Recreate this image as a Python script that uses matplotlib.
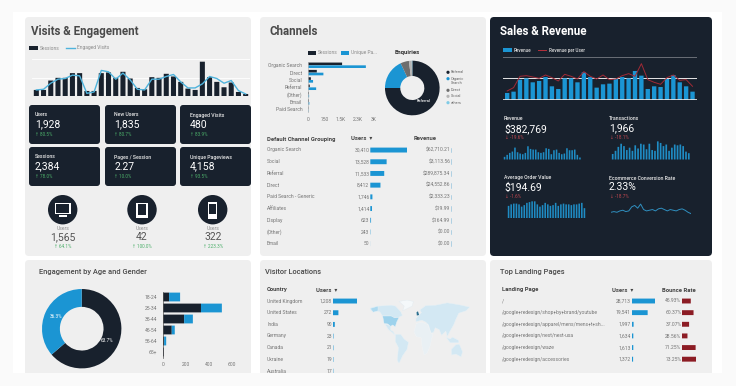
import matplotlib
matplotlib.use('Agg')
import matplotlib.pyplot as plt
from matplotlib.patches import FancyBboxPatch, Rectangle, Circle, Polygon

plt.rcParams['font.family'] = ['Roboto', 'DejaVu Sans']

W, H = 736, 386
DARK = '#18212d'
BLUE = '#1b95d3'
PANEL = '#efefef'
GREY = '#757575'
HEAD = '#4a4a4a'
GREEN = '#4caf6a'
RED = '#c0474f'
MAROON = '#8c1c24'
OUTER = '#fafafa'

# visits & engagement
sessions = [18, 18, 46, 54, 54, 68, 68, 15, 15, 68, 70, 54, 72, 52, 24, 20, 56, 54, 66, 58, 42, 22, 18, 102, 56, 42, 26, 40, 12, 6]
engaged = [18, 20, 38, 50, 52, 62, 60, 8, 12, 76, 72, 50, 68, 48, 20, 18, 50, 50, 58, 64, 42, 24, 24, 36, 58, 52, 38, 46, 16, 6]
kpi_labels = ['Users', 'New Users', 'Engaged Visits', 'Sessions', 'Pages / Session', 'Unique Pageviews']
kpi_values = ['1,928', '1,835', '480', '2,384', '2.27', '4,158']
kpi_deltas = ['↑ 80.5%', '↑ 80.7%', '↑ 83.9%', '↑ 78.0%', '↑ 10.0%', '↑ 93.5%']
device_values = ['1,565', '42', '322']
device_deltas = ['↑ 64.1%', '↑ 100.0%', '↑ 223.3%']

# channels
channels = ['Organic Search', 'Direct', 'Social', 'Referral', '(Other)', 'Email', 'Paid Search']
ch_sessions = [1550, 400, 130, 80, 40, 40, 20]
ch_unique = [2630, 700, 230, 370, 50, 60, 20]
ch_ticks = [0, 750, 1500, 2250, 3000]
ch_ticklabels = ['0', '750', '1.5K', '2.3K', '3K']
enq_labels = ['Referral', 'Organic\nSearch', 'Direct', 'Social', 'others']
enq_values = [75, 18, 5, 1.7, 0.3]
enq_colors = [DARK, BLUE, '#6e6e6e', '#b5b5b5', '#7fcbe6']
group_names = ['Organic Search', 'Social', 'Referral', 'Direct', 'Paid Search - Generic', 'Affiliates', 'Display', '(Other)', 'Email']
group_users = [30410, 13528, 11533, 8412, 1746, 1414, 623, 243, 50]
group_revenue = ['$62,710.21', '$3,113.56', '$289,875.34', '$24,552.86', '$2,333.23', '$19.99', '$164.99', '$0.00', '$0.00']

# sales & revenue
revenue = [22, 26, 62, 66, 54, 58, 70, 42, 34, 66, 66, 54, 84, 70, 38, 48, 50, 64, 70, 66, 88, 74, 34, 42, 40, 64, 76, 54, 42, 26]
rev_per_user = [28, 38, 72, 74, 70, 66, 76, 68, 58, 78, 72, 64, 86, 72, 64, 76, 62, 64, 74, 80, 72, 110, 62, 54, 48, 68, 76, 60, 62, 42]
spark_rev = [8, 14, 20, 24, 36, 22, 18, 16, 20, 40, 32, 30, 30, 22, 20, 22, 34, 32, 16, 28, 30, 20, 16, 18, 34, 28, 28, 30, 14, 6]
spark_trans = [14, 22, 32, 40, 34, 24, 30, 22, 36, 28, 40, 38, 26, 40, 24, 22, 46, 42, 34, 38, 22, 30, 38, 36, 38, 34, 20, 16]
spark_order = [32, 36, 38, 38, 36, 30, 34, 40, 42, 44, 44, 36, 30, 34, 40, 36, 32, 34, 40, 32, 36, 38, 36, 36, 34, 36, 36, 38, 40, 26]
spark_conv = [4, 5, 4, 6, 7, 5, 6, 12, 14, 10, 16, 8, 6, 7, 8, 6, 9, 10, 8, 6, 8, 7, 6, 8, 9, 7, 4, 2]

# age and gender
gender_values = [63.7, 36.3]
ages = ['18-24', '25-34', '35-44', '45-54', '55-64', '65+']
age_dark = [55, 330, 185, 78, 12, 10]
age_blue = [95, 180, 75, 26, 18, 0]

# locations
countries = ['United Kingdom', 'United States', 'India', 'Germany', 'Canada', 'Ukraine', 'Australia']
country_users = [1208, 272, 90, 23, 21, 19, 17]
land_light = {
    'canada': [(-168, 66), (-140, 70), (-95, 72), (-80, 70), (-62, 58), (-56, 50), (-70, 46), (-83, 45), (-95, 49), (-125, 49), (-135, 58), (-150, 60), (-165, 60)],
    'mexico': [(-117, 32), (-97, 28), (-97, 19), (-88, 16), (-82, 8), (-92, 14), (-105, 20)],
    'samerica': [(-80, 10), (-62, 10), (-50, 0), (-35, -7), (-40, -22), (-55, -35), (-68, -52), (-74, -45), (-70, -18), (-81, -5)],
    'eurasia': [(-9, 37), (-9, 44), (2, 51), (10, 56), (5, 62), (25, 71), (60, 72), (100, 77), (140, 73), (178, 68), (165, 60), (140, 55), (130, 42), (122, 30), (108, 15), (100, 5), (95, 17), (80, 8), (72, 20), (58, 24), (52, 14), (43, 13), (35, 30), (25, 36), (12, 40)],
    'australia': [(114, -22), (130, -12), (142, -11), (153, -27), (148, -38), (130, -32), (115, -34)],
    'indonesia': [(96, 4), (110, 0), (118, 4), (140, -3), (140, -8), (110, -8)],
}
land_africa = [(-16, 15), (-8, 33), (10, 36), (32, 31), (43, 12), (50, 11), (40, -15), (30, -30), (19, -34), (12, -15), (9, 3), (-8, 5)]
land_pale = [(-55, 60), (-22, 70), (-18, 80), (-40, 83), (-68, 80), (-50, 70)]
land_usa = [(-125, 49), (-95, 49), (-83, 45), (-68, 46), (-76, 36), (-81, 26), (-90, 30), (-97, 27), (-107, 32), (-120, 33)]
land_alaska = [(-168, 65), (-141, 70), (-141, 60), (-158, 57)]
land_uk = [(-6, 50), (2, 51), (-2, 59), (-7, 57)]

# landing pages
pages = ['/', '/google+redesign/shop+by+brand/youtube', '/google+redesign/apparel/mens/mens+t+sh...', '/google+redesign/nest/nest-usa', '/google+redesign/waze', '/google+redesign/accessories']
page_users = [28713, 19541, 1997, 1634, 1613, 1372]
page_bounce = [45.93, 60.37, 37.07, 28.56, 71.25, 73.25]


fig = plt.figure(figsize=(W / 100, H / 100), dpi=100, facecolor=OUTER)


def full_axes(z):
    a = fig.add_axes([0, 0, 1, 1], zorder=z)
    a.set_xlim(0, W)
    a.set_ylim(H, 0)
    a.axis('off')
    return a


def box(x0, y0, x1, y1):
    # axes from a pixel box, y measured from the top
    a = fig.add_axes([x0 / W, 1 - y1 / H, (x1 - x0) / W, (y1 - y0) / H], zorder=3)
    a.patch.set_alpha(0)
    for s in a.spines.values():
        s.set_visible(False)
    a.set_xticks([])
    a.set_yticks([])
    return a


bg = full_axes(0)
fg = full_axes(5)
top = full_axes(10)


def card(x0, y0, x1, y1, color, r=4):
    bg.add_patch(FancyBboxPatch((x0 + r, y0 + r), x1 - x0 - 2 * r, y1 - y0 - 2 * r,
                                boxstyle='round,pad=%d,rounding_size=%d' % (r, r), fc=color, ec='none'))


def T(x, y, s, size=3.65, color=GREY, weight='normal', ha='left'):
    fg.text(x, y, s, fontsize=size, color=color, fontweight=weight, ha=ha, va='center')


bg.add_patch(Rectangle((13, 12), 709, 361, fc='white', ec='none'))
card(25, 17, 251, 256, PANEL)
card(260, 17, 486, 256, PANEL)
card(490, 17, 712, 256, DARK)
card(25, 260, 251, 380, PANEL)
card(260, 260, 486, 380, PANEL)
card(490, 260, 712, 380, PANEL)

# ---- visits
T(31, 31.7, 'Visits & Engagement', 8.3, HEAD, 'bold')
bg.add_patch(Rectangle((29, 46), 9, 4, fc=DARK))
T(40, 48, 'Sessions', 3.5, '#8a8a8a')
fg.plot([66, 75], [48, 48], color='#4fb3dc', lw=1)
T(77, 48, 'Engaged Visits', 3.5, '#8a8a8a')

ax = box(32, 59, 250, 96)
xs = list(range(len(sessions)))
ax.bar(xs, sessions, width=0.7, color=DARK, snap=False)
ax.plot(xs, engaged, color='#4fb3dc', lw=1)
ax.axhline(55, color='white', lw=0.6, zorder=0)
ax.axhline(110, color='white', lw=0.6, zorder=0)
ax.set_xlim(-0.6, 29.6)
ax.set_ylim(0, 110)

card_x = [(29, 100), (105, 176), (180, 251)]
card_y = [(105, 144), (147, 186)]
for i in range(6):
    x0, x1 = card_x[i % 3]
    y0, y1 = card_y[i // 3]
    card(x0, y0, x1, y1, DARK, 3)
    tx = [35, 114.5, 190][i % 3]
    T(tx, y0 + 10, kpi_labels[i], 3.7, '#e8e8e8', 'medium')
    T(tx, y0 + 19.5, kpi_values[i], 7.5, 'white')
    T(tx, y0 + 29, kpi_deltas[i], 3.3, GREEN)

cx = [62.7, 142, 212.7]
for i in range(3):
    bg.add_patch(Circle((cx[i], 209.7), 14.7, fc=DARK, ec='none'))
    T(cx[i], 228, 'Users', 3.6, '#8a8a8a', ha='center')
    T(cx[i], 237.5, device_values[i], 7.5, '#555555', ha='center')
    T(cx[i], 246.5, device_deltas[i], 3.3, GREEN, ha='center')
# device glyphs
fg.add_patch(Rectangle((55, 203), 15.5, 11, fc='white', ec='none'))
fg.add_patch(Rectangle((56.2, 204.2), 13.1, 8.6, fc=DARK, ec='none'))
fg.add_patch(Rectangle((59, 215), 7.5, 1.6, fc='white', ec='none'))
fg.add_patch(Rectangle((136.3, 202.5), 11.4, 15, fc='white', ec='none'))
fg.add_patch(Rectangle((137.6, 204), 8.8, 11.4, fc=DARK, ec='none'))
fg.add_patch(Rectangle((208, 201.5), 9.4, 17, fc='white', ec='none'))
fg.add_patch(Rectangle((209.2, 203.6), 7, 10.5, fc=DARK, ec='none'))

# ---- channels
T(269.7, 31.7, 'Channels', 8.3, HEAD, 'bold')
bg.add_patch(Rectangle((308, 50.7), 8, 4, fc=DARK))
T(318, 52.7, 'Sessions', 3.5, '#8a8a8a')
bg.add_patch(Rectangle((341, 50.7), 8, 4, fc=BLUE))
T(351, 52.7, 'Unique Pa...', 3.5, '#8a8a8a')

ax = box(308, 61.6, 374, 113)
ys = list(range(len(channels)))
ax.barh([y - 0.19 for y in ys], ch_sessions, height=0.36, color=DARK, snap=False)
ax.barh([y + 0.19 for y in ys], ch_unique, height=0.36, color=BLUE, snap=False)
ax.set_xlim(0, 3000)
ax.set_ylim(6.5, -0.5)
ax.set_yticks(ys)
ax.set_yticklabels(channels, fontsize=3.6, color=GREY)
ax.set_xticks(ch_ticks)
ax.set_xticklabels(ch_ticklabels, fontsize=3.6, color=GREY)
ax.tick_params(length=0, pad=4)
ax.xaxis.set_tick_params(pad=3)
ax.axvline(0, color='#bbbbbb', lw=0.5)

T(407, 52.7, 'Enquiries', 4.3, '#333333', 'bold', ha='center')
ax = box(412.3 - 28, 88 - 28, 412.3 + 28, 88 + 28)
ax.pie(enq_values, colors=enq_colors, startangle=90, counterclock=False, radius=1.0,
       wedgeprops={'width': 0.56, 'linewidth': 0})
ax.set_xlim(-1.025, 1.025)
ax.set_ylim(-1.025, 1.025)
T(424, 100.7, 'Referral', 2.8, 'white', 'medium', ha='center')
leg_y = [72.3, 81, 90.3, 96.3, 102.7]
for i in range(5):
    fg.add_patch(Circle((448, leg_y[i] if i != 1 else 78.7), 1.6, fc=enq_colors[i], ec='none'))
    T(451, leg_y[i], enq_labels[i], 2.8, '#666666')

T(267, 139, 'Default Channel Grouping', 4.2, '#444444', 'bold')
T(350.7, 139, 'Users  ▾', 4.2, '#444444', 'bold')
T(414, 139, 'Revenue', 4.2, '#444444', 'bold')
rows = [150, 161.7, 173.7, 185.3, 197, 208.7, 220.7, 232, 243.7]
for i in range(9):
    T(267, rows[i], group_names[i])
    T(369.3, rows[i], f'{group_users[i]:,}', ha='right')
    T(450.3, rows[i], group_revenue[i], ha='right')
    fg.plot([451, 451], [rows[i] - 2.3, rows[i] + 2.3], color='#7fb8d8', lw=0.4)
ax = box(370.3, 144.2, 407, 249.5)
ax.barh(range(9), group_users, height=0.42, color=BLUE, snap=False)
ax.set_xlim(0, 30410)
ax.set_ylim(8.5, -0.5)

# ---- sales
T(500, 31.7, 'Sales & Revenue', 8.3, 'white', 'bold')
fg.add_patch(Rectangle((502.7, 48.3), 9, 4, fc=BLUE))
T(514, 50.3, 'Revenue', 3.3, '#dddddd', 'medium')
fg.plot([538, 546], [50.3, 50.3], color='#b5303c', lw=0.7)
T(549, 50.3, 'Revenue per User', 3.3, '#dddddd', 'medium')

ax = box(502.7, 57, 697, 100.3)
xs = list(range(len(revenue)))
ax.bar(xs, revenue, width=0.68, color=BLUE, zorder=2, snap=False)
ax.plot(xs, rev_per_user, color='#a12a36', lw=0.7, zorder=3)
ax.axhline(130, color='#6a6f76', lw=1.4, zorder=1)
ax.axhline(66, color='#e6e6e6', lw=0.7, zorder=1)
ax.axhline(0, color='#e6e6e6', lw=1.2, zorder=4)
ax.set_xlim(-0.7, 29.7)
ax.set_ylim(0, 130)


def stat(x, y, label, value, delta):
    T(x, y, label, 3.7, '#e8e8e8', 'medium')
    T(x, y + 9.5, value, 7.5, 'white')
    T(x + 1, y + 18.5, delta, 3.3, RED)


stat(504, 119, 'Revenue', '$382,769', '↓ -19.6%')
stat(609, 119, 'Transactions', '1,966', '↓ -18.1%')
stat(504, 178, 'Average Order Value', '$194.69', '↓ -1.6%')
stat(609, 178, 'Ecommerce Conversion Rate', '2.33%', '↓ -18.7%')

for vals, bx in [(spark_rev, (503, 146, 581.5, 159.5)), (spark_trans, (611, 141, 690.5, 159.5)),
                 (spark_order, (507, 201, 586, 218))]:
    ax = box(*bx)
    ax.bar(range(len(vals)), vals, width=0.6, color='#1f8cc4', snap=False)
    ax.axhline(0, color='#4a9cc8', lw=0.4)
    ax.set_xlim(-0.6, len(vals) - 0.4)
    ax.set_ylim(0, max(vals) * 1.02)
ax = box(611, 200, 691, 215)
ax.plot(range(len(spark_conv)), spark_conv, color='#2f8fbf', lw=0.7)
ax.set_xlim(0, len(spark_conv) - 1)
ax.set_ylim(0, 22)

# ---- age and gender
T(39.3, 271.7, 'Engagement by Age and Gender', 5.45, HEAD, 'medium')
ax = box(81.7 - 41, 328.7 - 41, 81.7 + 41, 328.7 + 41)
ax.pie(gender_values, colors=[DARK, BLUE], startangle=90, counterclock=False, radius=1.0,
       wedgeprops={'width': 0.45, 'linewidth': 0})
ax.set_xlim(-1.033, 1.033)
ax.set_ylim(-1.033, 1.033)
T(55.7, 317, '36.3%', 3.4, 'white', ha='center')
T(107.3, 341, '63.7%', 3.4, 'white', ha='center')

ax = box(162.7, 291.5, 232.3, 357.5)
ys = list(range(len(ages)))
ax.barh(ys, age_dark, height=0.8, color=DARK, snap=False)
ax.barh(ys, age_blue, left=age_dark, height=0.8, color=BLUE, snap=False)
ax.set_xlim(0, 600)
ax.set_ylim(5.5, -0.5)
ax.set_yticks(ys)
ax.set_yticklabels(ages, fontsize=3.6, color=GREY)
ax.set_xticks([0, 200, 400, 600])
ax.set_xticklabels(['0', '200', '400', '600'], fontsize=3.6, color=GREY)
ax.tick_params(length=0, pad=4)
ax.xaxis.set_tick_params(pad=3)
ax.spines['left'].set_visible(True)
ax.spines['left'].set_color('#555555')
ax.spines['left'].set_linewidth(0.5)

# ---- locations
T(265.3, 271.7, 'Visitor Locations', 5.45, HEAD, 'medium')
T(267, 290, 'Country', 4.2, '#444444', 'bold')
T(315.7, 290, 'Users  ▾', 4.2, '#444444', 'bold')
rows = [301, 312.3, 324.3, 336, 347.7, 359.3, 371.3]
for i in range(7):
    T(267, rows[i], countries[i])
    T(332, rows[i], f'{country_users[i]:,}', ha='right')
ax = box(333, 295.2, 357, 377)
ax.barh(range(7), country_users, height=0.42, color=BLUE, snap=False)
ax.set_xlim(0, 1208)
ax.set_ylim(6.5, -0.5)

ax = box(369.7, 300, 469.7, 363)
for name in land_light:
    ax.add_patch(Polygon(land_light[name], fc='#d3e8f3', ec='#e8f2f7', lw=0.3))
ax.add_patch(Polygon(land_africa, fc='#e9f0f4', ec='#f2f5f7', lw=0.3))
ax.add_patch(Polygon(land_pale, fc='#f4f8fa', ec='#e2ebf0', lw=0.3))
ax.add_patch(Polygon(land_usa, fc='#9dd2ec', ec='#e8f2f7', lw=0.3))
ax.add_patch(Polygon(land_alaska, fc='#aedaf0', ec='#e8f2f7', lw=0.3))
ax.add_patch(Polygon(land_uk, fc='#2a6f8f', ec='none'))
ax.set_xlim(-170, 178)
ax.set_ylim(-51, 83)

# ---- landing pages
T(500, 271.7, 'Top Landing Pages', 5.45, HEAD, 'medium')
T(502, 290, 'Landing Page', 4.2, '#444444', 'bold')
T(612, 290, 'Users  ▾', 4.2, '#444444', 'bold')
T(662, 290, 'Bounce Rate', 4.2, '#444444', 'bold')
rows = [301, 312.3, 324.3, 336, 347.7, 359.3]
for i in range(6):
    T(502, rows[i], pages[i])
    T(631, rows[i], f'{page_users[i]:,}', ha='right')
    T(681.3, rows[i], f'{page_bounce[i]:.2f}%', ha='right')
ax = box(632, 295.2, 655, 365)
ax.barh(range(6), page_users, height=0.42, color=BLUE, snap=False)
ax.set_xlim(0, 28713)
ax.set_ylim(5.5, -0.5)
ax = box(682, 295.2, 696, 365)
ax.barh(range(6), page_bounce, height=0.42, color=MAROON, snap=False)
ax.set_xlim(0, 73.25)
ax.set_ylim(5.5, -0.5)

# bottom of the screenshot fades out
top.add_patch(Rectangle((0, 373), W, H - 373, fc=OUTER, ec='none'))

fig.savefig('out.png', dpi=100, facecolor=OUTER)
